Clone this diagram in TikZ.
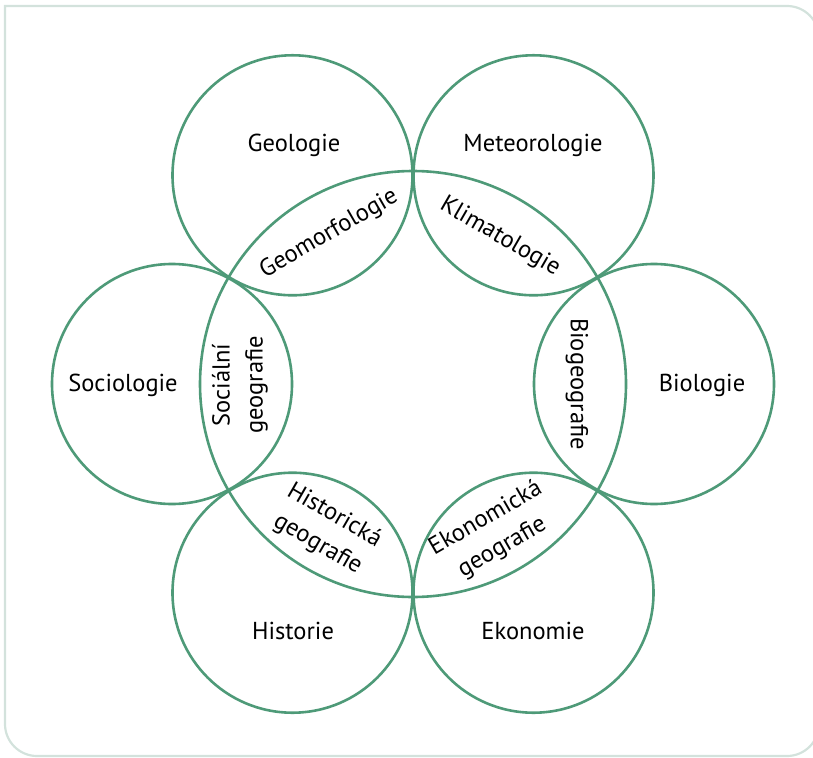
\documentclass[tikz,border=0pt]{standalone}
\usepackage{fontspec}
\setmainfont{PT Sans}
\usepackage{xcolor}
\usetikzlibrary{calc}
\definecolor{ringgreen}{HTML}{4E9A78}
\definecolor{framegray}{HTML}{D3E2DC}

\begin{document}
\begin{tikzpicture}[x=1pt,y=-1pt,
    ring/.style={draw=ringgreen,line width=2.6pt},
    field/.style={font=\fontsize{24.5}{33}\selectfont,align=center,inner sep=0pt}]
    \clip (0,0) rectangle (813,757);

    % Frame
    \draw[framegray,line width=2.2pt] (5,400) [rounded corners=32pt] -- (5,756) -- (819,756) -- (819,6) [sharp corners] -- (5,6) -- cycle;

    % Draw circles
    \coordinate (geo) at (413,384);
    \draw[ring] (geo) circle[radius=213pt];
    \foreach \a in {0,60,...,300} {
        \draw[ring] ($(geo)+(\a:241pt)$) circle[radius=120pt];
    }

    % Outer fields
    \node[field] (geol) at (294,145) {Geologie};
    \node[field] (meteo) at (533,145) {Meteorologie};
    \node[field] (socio) at (123,385) {Sociologie};
    \node[field] (bio) at (702,385) {Biologie};
    \node[field] (hist) at (293,631) {Historie};
    \node[field] (ekon) at (533,631) {Ekonomie};

    % Overlaps
    \node[field,rotate=30] (geomorf) at (329,234) {Geomorfologie};
    \node[field,rotate=-30] (klima) at (500,237) {Klimatologie};
    \node[field,rotate=90] (socgeo) at (240,385) {Sociální\\geografie};
    \node[field,rotate=-90] (biogeo) at (577,384) {Biogeografie};
    \node[field,rotate=-30] (histgeo) at (326,530) {Historická\\geografie};
    \node[field,rotate=30] (ekongeo) at (494,533) {Ekonomická\\geografie};
\end{tikzpicture}
\end{document}
